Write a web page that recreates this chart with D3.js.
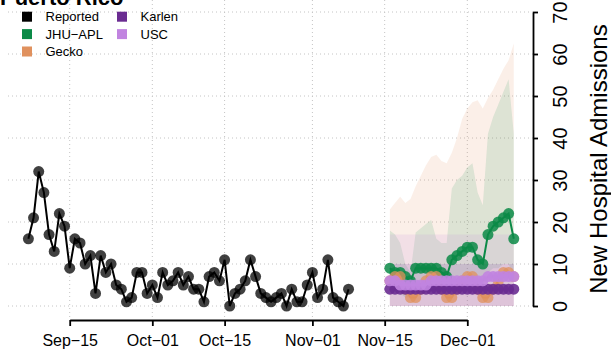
<!DOCTYPE html>
<html><head><meta charset="utf-8">
<script src="https://cdn.jsdelivr.net/npm/d3@7"></script>
<style>
html,body{margin:0;padding:0;background:#fff;}
svg{display:block;font-family:"Liberation Sans",Arial,Helvetica,sans-serif;}
</style></head><body>
<svg id="chart" width="611" height="358"></svg>
<script>
// Daily reported admissions, starting 2020-09-07
const reportedStart = "2020-09-07";
const reported = [16,21,32,27,17,13,22,19,
  9,16,15,10,12,3,12,8,10,5,
  4,1,2,8,8,3,5,2,8,5,
  6,8,5,7,4,4,1,7,8,6,
  11,0,3,4,6,11,7,3,2,1,
  2,3,0,4,1,1,5,8,2,4,
  11,2,1,0,4];

// Forecasts, daily from 2020-11-16
const forecastStart = "2020-11-16";
const jhuMedian  = [9,8,8,7,6,9,9,9,9,9,8,7,11,12,13,14,14,11,10,17,19,20,21,22,16];
const jhuLower   = [4,4,3,2,2,4,4,4,4,4,3,3,5,6,6,7,7,5,5,8,9,9,10,10,7];
const jhuUpper   = [18,17,15,10,8,17.5,18.5,19.5,20.5,16,15,15,28,30,31,33,34,27,24,41,45,48,51,54,41];
const geckoMedian = [6,7,7,4,2,2,4,6,7,7,4,2,2,4,6,7,7,4,2,2,4,6,8,8,7];
const geckoLower  = [0,0,0,0,0,0,0,0,0,0,0,0,0,0,0,0,0,0,0,0,0,0,0,0,0];
const geckoUpper  = [23,24.5,26,24.5,25.5,28.5,31,33.5,35.5,36,34.5,34,36.5,40,44.5,47,48.5,49,47,49.5,51.5,54,56.5,58.5,62.5];
const karlenMedian = [4,4,4,4,4,4,4,4,4,4,4,4,4,4,4,4,4,4,4,4,4,4,4,4,4];
const karlenLower  = [0,0,0,0,0,0,0,0,0,0,0,0,0,0,0,0,0,0,0,0,0,0,0,0,0];
const karlenUpper  = [10,10,10,10,10,10,10,10,10,10,10,10,10,10,10,10,10,10,10,10,10,10,10,10,10];
const uscMedian = [6,6,5,5,5,5,5,5,6,6,6,6,6,6,6,6,6,6,6,7,7,7,7,7,7];
const uscLower  = [0,0,0,0,0,0,0,0,0,0,0,0,0,0,0,0,0,0,0,0,0,0,0,0,0];
const uscUpper  = [17,17,17,17,17,17,17,17,17,17,17,17,17,17,17,17,17,17,17,17,17,17,17,17,17];

const xTicks = ["2020-09-15","2020-10-01","2020-10-15","2020-11-01","2020-11-15","2020-12-01"];
const yTicks = [0,10,20,30,40,50,60,70];

const legendNames  = ["Reported","JHU\u2212APL","Gecko","Karlen","USC"];
const legendColors = ["#000000","#0b8a47","#e0915e","#6a2c91","#c184e0"];

const parse = d3.utcParse("%Y-%m-%d");
const dayAt = (start, i) => d3.utcDay.offset(parse(start), i);

const svg = d3.select("#chart");
const plot = {left: 8, right: 533, top: 0, bottom: 320};

const x = d3.scaleUtc()
  .domain([parse(xTicks[0]), parse(xTicks[xTicks.length - 1])])
  .range([69.7, 467.3]);
const y = d3.scaleLinear().domain([0, 70]).range([306, 12]);

// dotted grid
const grid = svg.append("g").attr("stroke", "#c4c4c4").attr("stroke-width", 1)
  .attr("stroke-dasharray", "1,3");
grid.selectAll("line.h").data(yTicks).join("line")
  .attr("x1", plot.left).attr("x2", plot.right)
  .attr("y1", d => y(d)).attr("y2", d => y(d));
grid.selectAll("line.v").data(xTicks).join("line")
  .attr("x1", d => x(parse(d))).attr("x2", d => x(parse(d)))
  .attr("y1", plot.top).attr("y2", plot.bottom);

// forecast models
function series(median, lower, upper) {
  return median.map((m, i) => ({date: dayAt(forecastStart, i), m, lo: lower[i], hi: upper[i]}));
}
const models = [
  {name: "Gecko",   color: legendColors[2], data: series(geckoMedian, geckoLower, geckoUpper), bandAlpha: 0.14, ptAlpha: 0.75},
  {name: "JHU-APL", color: legendColors[1], data: series(jhuMedian, jhuLower, jhuUpper), bandAlpha: 0.12, ptAlpha: 0.85},
  {name: "USC",     color: legendColors[4], data: series(uscMedian, uscLower, uscUpper), bandAlpha: 0.15, ptAlpha: 0.9},
  {name: "Karlen",  color: legendColors[3], data: series(karlenMedian, karlenLower, karlenUpper), bandAlpha: 0.15, ptAlpha: 0.9}
];

const band = d3.area().x(d => x(d.date)).y0(d => y(d.lo)).y1(d => y(d.hi));
const bands = svg.append("g");
models.forEach(md => {
  bands.append("path").datum(md.data)
    .attr("d", band).attr("fill", md.color).attr("fill-opacity", md.bandAlpha);
});

// reported series
const rep = reported.map((v, i) => ({date: dayAt(reportedStart, i), v}));
const line = d3.line().x(d => x(d.date)).y(d => y(d.v));
svg.append("path").datum(rep).attr("d", line)
  .attr("fill", "none").attr("stroke", "#000").attr("stroke-width", 2);
svg.append("g").selectAll("circle").data(rep).join("circle")
  .attr("cx", d => x(d.date)).attr("cy", d => y(d.v)).attr("r", 5.5)
  .attr("fill", "#000").attr("fill-opacity", 0.75);

// forecast medians, drawn in order
const mline = d3.line().x(d => x(d.date)).y(d => y(d.m));
["JHU-APL", "Gecko", "Karlen", "USC"].forEach(n => {
  const md = models.find(k => k.name === n);
  const g = svg.append("g");
  g.append("path").datum(md.data).attr("d", mline)
    .attr("fill", "none").attr("stroke", md.color).attr("stroke-width", 2);
  g.selectAll("circle").data(md.data).join("circle")
    .attr("cx", d => x(d.date)).attr("cy", d => y(d.m)).attr("r", 5.5)
    .attr("fill", md.color).attr("fill-opacity", md.ptAlpha);
});

// bottom axis
const fmt = d => d3.utcFormat("%b")(d) + "\u2212" + d3.utcFormat("%d")(d);
const xAxis = svg.append("g").attr("transform", `translate(0,${plot.bottom})`)
  .call(d3.axisBottom(x).tickValues(xTicks.map(parse)).tickFormat(fmt)
    .tickSize(6).tickSizeOuter(0).tickPadding(9));
xAxis.select(".domain").attr("stroke-width", 1.8);
xAxis.selectAll(".tick line").attr("stroke-width", 1.8);
xAxis.selectAll("text").attr("font-size", 16).attr("fill", "#000")
  .attr("font-family", "Liberation Sans, Arial, sans-serif");

// right axis with rotated labels
const yAxis = svg.append("g").attr("transform", `translate(${plot.right},0)`)
  .call(d3.axisRight(y).tickValues(yTicks).tickSize(5).tickSizeOuter(0));
yAxis.select(".domain").attr("stroke-width", 1.8);
yAxis.selectAll(".tick line").attr("stroke-width", 1.8);
yAxis.selectAll("text")
  .attr("x", 0).attr("dy", null).attr("y", 0)
  .attr("transform", "translate(34,0) rotate(-90)")
  .attr("text-anchor", "middle")
  .attr("font-size", 20).attr("fill", "#000")
  .attr("font-family", "Liberation Sans, Arial, sans-serif");

svg.append("text")
  .attr("transform", `translate(607,${(y(0) + y(70)) / 2}) rotate(-90)`)
  .attr("text-anchor", "middle")
  .attr("font-size", 24).attr("fill", "#000")
  .text("New Hospital Admissions");

// legend
const legendPos = [[0,0],[0,1],[0,2],[1,0],[1,1]];
const lg = svg.append("g");
legendNames.forEach((name, i) => {
  const [c, r] = legendPos[i];
  const cx = c === 0 ? 22 : 117;
  const cy = 16.7 + r * 17.4;
  lg.append("rect").attr("x", cx).attr("y", cy - 5).attr("width", 10).attr("height", 10)
    .attr("fill", legendColors[i]);
  lg.append("text").attr("x", cx + 23.5).attr("y", cy + 4.7)
    .attr("font-size", 13).attr("fill", "#000").text(name);
});

// title
svg.append("text").attr("x", 0).attr("y", 5)
  .attr("font-size", 22).attr("font-weight", "bold").attr("fill", "#000")
  .text("Puerto Rico");
</script>
</body></html>
